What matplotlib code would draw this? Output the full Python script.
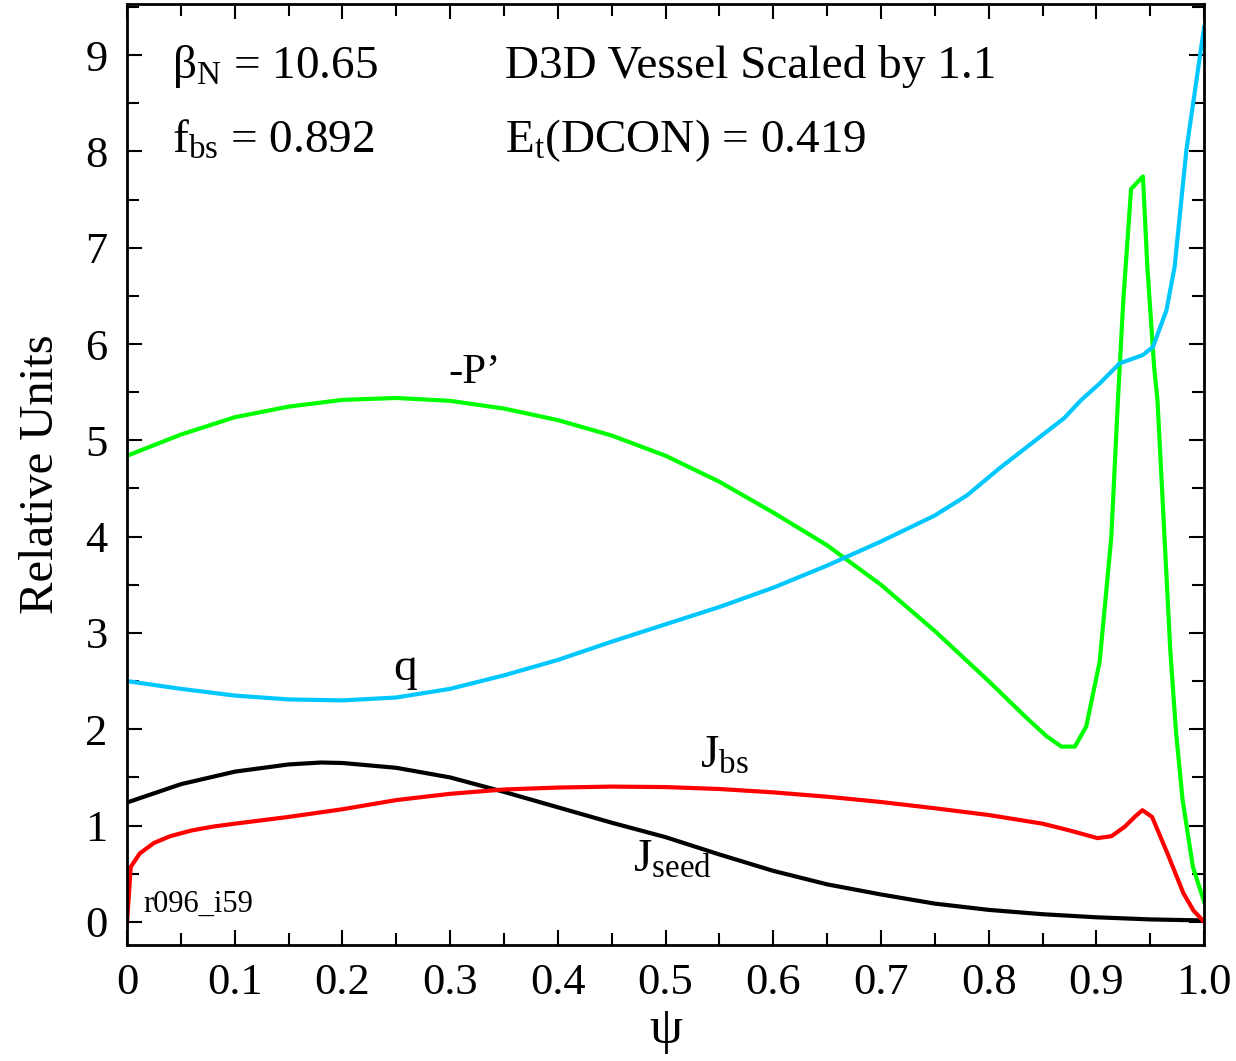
import matplotlib
matplotlib.use("Agg")
import matplotlib.pyplot as plt
from matplotlib.ticker import MultipleLocator

plt.rcParams['font.family'] = ['Liberation Serif', 'DejaVu Serif']
plt.rcParams['mathtext.fontset'] = 'custom'
plt.rcParams['mathtext.rm'] = 'Liberation Serif'
plt.rcParams['mathtext.it'] = 'Liberation Serif'

# -P' profile
psi_pp = [0.0, 0.05, 0.10, 0.15, 0.20, 0.25, 0.30, 0.35, 0.40, 0.45, 0.50, 0.55,
          0.60, 0.65, 0.70, 0.75, 0.80, 0.835, 0.8535, 0.8675, 0.880, 0.8906, 0.903,
          0.9138, 0.920, 0.925, 0.9322, 0.9432, 0.9473, 0.9536, 0.9567, 0.9686, 0.974,
          0.980, 0.9896, 1.0]
pp = [4.84, 5.06, 5.24, 5.35, 5.42, 5.44, 5.41, 5.33, 5.21, 5.05, 4.84, 4.57,
      4.25, 3.91, 3.50, 3.02, 2.50, 2.12, 1.93, 1.82, 1.82, 2.03, 2.70,
      3.99, 5.42, 6.46, 7.61, 7.74, 6.80, 5.76, 5.42, 2.82, 1.96,
      1.27, 0.57, 0.21]

# safety factor q
psi_q = [0.0, 0.05, 0.10, 0.15, 0.20, 0.25, 0.30, 0.35, 0.40, 0.45, 0.50, 0.55,
         0.60, 0.65, 0.70, 0.75, 0.78, 0.81, 0.84, 0.87, 0.886, 0.903, 0.9216,
         0.943, 0.9525, 0.965, 0.9726, 0.9835, 1.0]
q = [2.50, 2.42, 2.35, 2.31, 2.30, 2.33, 2.42, 2.56, 2.72, 2.91, 3.09, 3.27,
     3.47, 3.70, 3.95, 4.22, 4.43, 4.71, 4.97, 5.23, 5.42, 5.59, 5.80,
     5.885, 5.97, 6.35, 6.80, 8.01, 9.29]

# bootstrap current
psi_bs = [0.0, 0.0034, 0.0117, 0.025, 0.04, 0.06, 0.08, 0.10, 0.15, 0.20, 0.25,
          0.30, 0.35, 0.40, 0.45, 0.50, 0.55, 0.60, 0.65, 0.70, 0.75, 0.80, 0.85,
          0.875, 0.901, 0.914, 0.9265, 0.9355, 0.9427, 0.9517, 0.966, 0.9807, 0.99, 1.0]
j_bs = [0.0, 0.57, 0.71, 0.82, 0.89, 0.95, 0.99, 1.02, 1.09, 1.17, 1.265,
        1.33, 1.375, 1.395, 1.405, 1.40, 1.38, 1.345, 1.30, 1.245, 1.18, 1.11, 1.02,
        0.95, 0.87, 0.89, 0.99, 1.09, 1.16, 1.09, 0.71, 0.30, 0.12, 0.0]

# seed current
psi_seed = [0.0, 0.05, 0.10, 0.15, 0.18, 0.20, 0.25, 0.30, 0.35, 0.40, 0.45, 0.50,
            0.55, 0.60, 0.65, 0.70, 0.75, 0.80, 0.85, 0.90, 0.95, 1.0]
j_seed = [1.24, 1.43, 1.56, 1.635, 1.655, 1.65, 1.60, 1.50, 1.35, 1.19, 1.03, 0.88,
          0.70, 0.53, 0.39, 0.285, 0.19, 0.125, 0.08, 0.048, 0.026, 0.015]

xtick_vals = [0, 0.1, 0.2, 0.3, 0.4, 0.5, 0.6, 0.7, 0.8, 0.9, 1.0]
xtick_text = ['0', '0.1', '0.2', '0.3', '0.4', '0.5', '0.6', '0.7', '0.8', '0.9', '1.0']

fig = plt.figure(figsize=(12.36, 10.61), dpi=100)
ax = fig.add_axes([0.1028, 0.1093, 0.8714, 0.8869])

ax.plot(psi_seed, j_seed, color='black', lw=3)
ax.plot(psi_bs, j_bs, color='#ff0000', lw=3)
ax.plot(psi_pp, pp, color='#00ff00', lw=3)
ax.plot(psi_q, q, color='#00c8ff', lw=3)

ax.set_xlim(0, 1.0)
ax.set_ylim(-0.24, 9.53)
ax.set_xticks(xtick_vals)
ax.set_xticklabels(xtick_text)
ax.xaxis.set_minor_locator(MultipleLocator(0.05))
ax.yaxis.set_major_locator(MultipleLocator(1))
ax.yaxis.set_minor_locator(MultipleLocator(0.5))
ax.tick_params(which='both', direction='in', top=True, right=True, width=1.5,
               labelsize=32, colors='black')
ax.tick_params(axis='x', which='major', length=11, pad=13)
ax.tick_params(axis='y', which='major', length=11, pad=14)
ax.tick_params(which='minor', length=8.5)
for s in ax.spines.values():
    s.set_linewidth(2)

ax.set_xlabel('ψ', fontsize=38, labelpad=2)
ax.set_ylabel('Relative Units', fontsize=35, labelpad=16)

ts = 34
ax.text(0.042, 8.76, r'β$_{\rm N}$ = 10.65', fontsize=ts)
ax.text(0.042, 7.99, r'f$_{\rm bs}$ = 0.892', fontsize=ts)
ax.text(0.351, 8.76, 'D3D Vessel Scaled by 1.1', fontsize=ts)
ax.text(0.351, 7.99, r'E$_{\rm t}$(DCON) = 0.419', fontsize=ts)

ax.text(0.298, 5.6, '-P’', fontsize=31)
ax.text(0.247, 2.51, 'q', fontsize=34)
ax.text(0.532, 1.60, r'J$_{\rm bs}$', fontsize=34)
ax.text(0.47, 0.52, r'J$_{\rm seed}$', fontsize=34)
ax.text(0.015, 0.10, 'r096_i59', fontsize=22)

fig.savefig('out.png', dpi=100)
